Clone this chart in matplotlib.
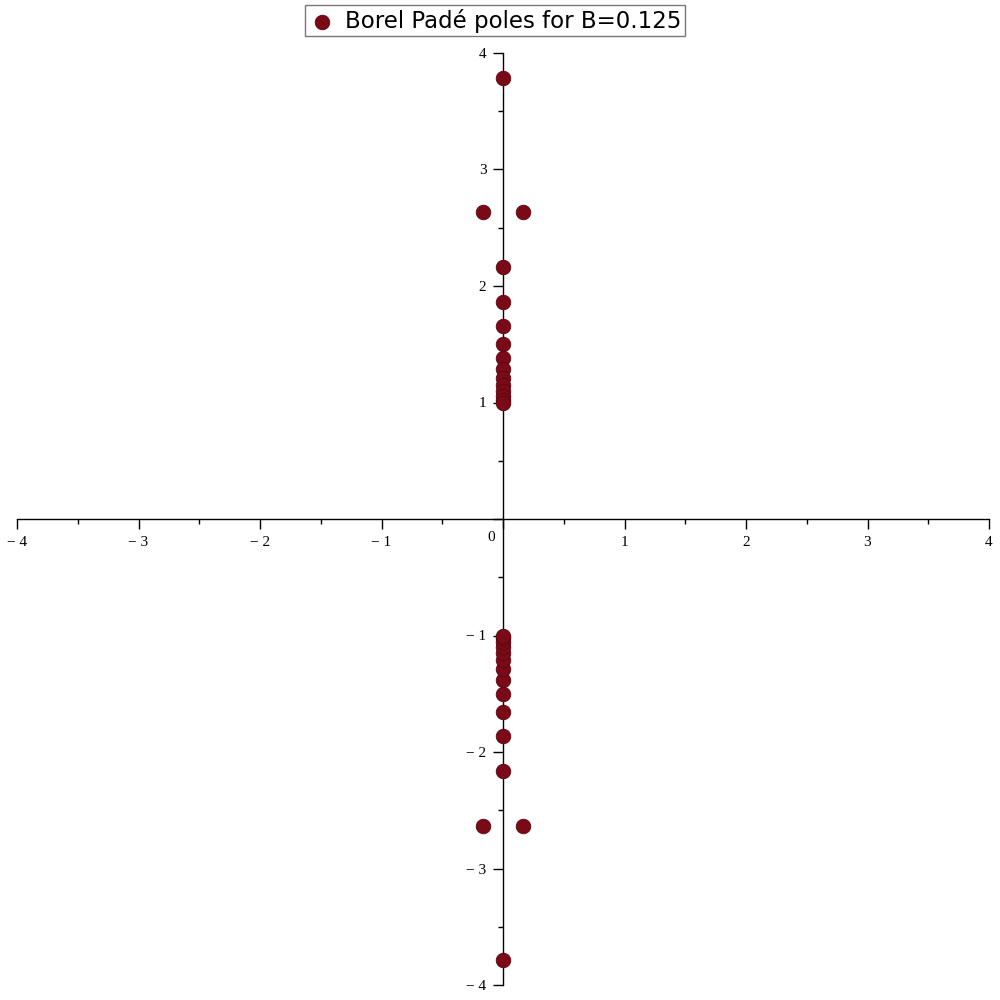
import matplotlib
matplotlib.use('Agg')
import matplotlib.pyplot as plt
from matplotlib.ticker import MultipleLocator, FuncFormatter

# Pade poles (upper half plane, on the imaginary axis)
upper_im = [3.785, 2.163, 1.863, 1.657, 1.502, 1.382, 1.288, 1.21,
            1.15, 1.10, 1.056, 1.02, 1.0]
# off-axis pair
pair_re = [-0.165, 0.165]
pair_im = [2.635, 2.635]

# poles come in conjugate pairs
re = [0.0] * len(upper_im) + pair_re
im = upper_im + pair_im
re_all = re + re
im_all = im + [-v for v in im]

fig = plt.figure(figsize=(10, 10), dpi=100)
ax = fig.add_axes([0.017, 0.015, 0.972, 0.932])

ax.scatter(re_all, im_all, s=110, color='#7a0a16', edgecolors='#5e0510',
           linewidths=0.6, zorder=3, label='Borel Padé poles for B=0.125')

ax.set_xlim(-4, 4)
ax.set_ylim(-4, 4)

# Maple-style axes crossing at the origin
ax.spines['left'].set_position('zero')
ax.spines['bottom'].set_position('zero')
ax.spines['top'].set_visible(False)
ax.spines['right'].set_visible(False)
ax.spines['left'].set_linewidth(1.0)
ax.spines['bottom'].set_linewidth(1.0)

ax.xaxis.set_major_locator(MultipleLocator(1))
ax.xaxis.set_minor_locator(MultipleLocator(0.5))
ax.yaxis.set_major_locator(MultipleLocator(1))
ax.yaxis.set_minor_locator(MultipleLocator(0.5))


def fmt(v, pos):
    v = int(round(v))
    if v == 0:
        return ''
    if v < 0:
        return '\u2212 %d' % abs(v)
    return '%d' % v


ax.xaxis.set_major_formatter(FuncFormatter(fmt))
ax.yaxis.set_major_formatter(FuncFormatter(fmt))
ax.tick_params(which='major', direction='out', length=7, width=1, labelsize=11,
               pad=5)
ax.tick_params(which='minor', direction='out', length=3.5, width=1)
for lab in ax.get_xticklabels() + ax.get_yticklabels():
    lab.set_family('Liberation Serif')

ax.text(-0.1, -0.16, '0', ha='center', va='center', fontsize=11,
        family='Liberation Serif')

leg = fig.legend(loc='upper center', bbox_to_anchor=(0.495, 0.997),
                 fontsize=16.5, fancybox=False, edgecolor='#555555',
                 handletextpad=0.4, borderpad=0.15, handlelength=1.2,
                 borderaxespad=0.1, markerscale=1.0)
leg.get_frame().set_linewidth(1.0)

fig.savefig('out.png', dpi=100)
